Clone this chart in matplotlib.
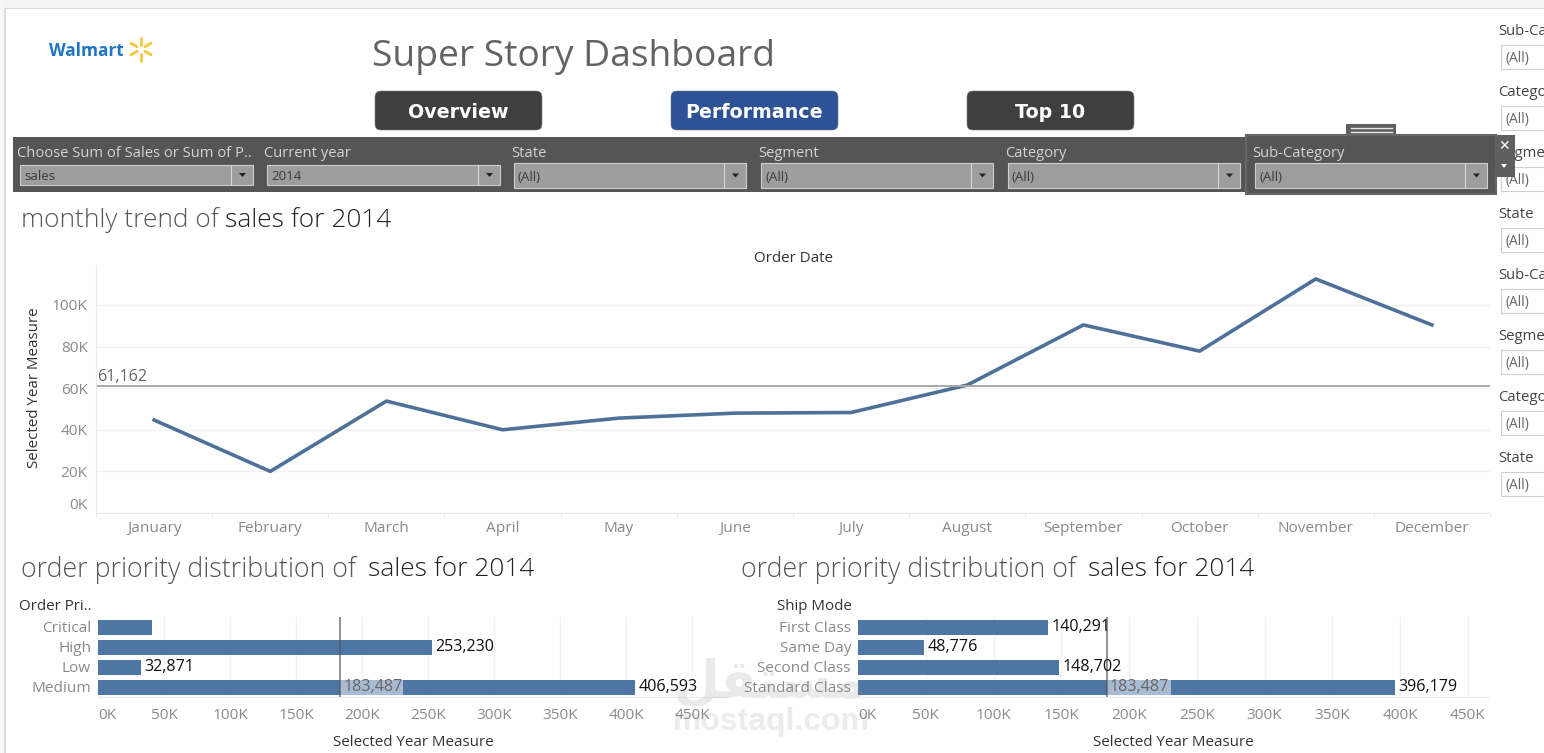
import matplotlib
matplotlib.use('Agg')
import matplotlib.pyplot as plt
from matplotlib.patches import Rectangle, FancyBboxPatch, Polygon
import math

W, H = 1544, 753
months = ['January','February','March','April','May','June','July','August','September','October','November','December']
monthly_sales = [44700, 20000, 53800, 40000, 45600, 48000, 48300, 61500, 90400, 77800, 112500, 90400]
monthly_avg = 61162
y_ticks = [0, 20000, 40000, 60000, 80000, 100000]
y_tick_labels = ['0K','20K','40K','60K','80K','100K']

priority = ['Critical','High','Low','Medium']
priority_sales = [41000, 253230, 32871, 406593]
priority_labels = ['', '253,230', '32,871', '406,593']
ship_modes = ['First Class','Same Day','Second Class','Standard Class']
ship_sales = [140291, 48776, 148702, 396179]
ship_labels = ['140,291', '48,776', '148,702', '396,179']
ref_value = 183487
ref_label = '183,487'
x_ticks = [0, 50000, 100000, 150000, 200000, 250000, 300000, 350000, 400000, 450000]
x_tick_labels = ['0K','50K','100K','150K','200K','250K','300K','350K','400K','450K']

filters = [('Choose Sum of Sales or Sum of P..','sales',17,20,253,165,185),
           ('Current year','2014',264,267,500,165,185),
           ('State','(All)',511,514,746,163,188),
           ('Segment','(All)',758,761,993,163,188),
           ('Category','(All)',1005,1008,1240,163,188),
           ('Sub-Category','(All)',1252,1255,1487,163,188)]
side_labels = ['Sub-Category','Category','Segment','State','Sub-Category','Segment','Category','State']

BODY = 'Open Sans'
BLUE = '#4e76a5'
LINE = '#4f7199'
GRID = '#f1f1f1'
TICK = '#8a8a8a'
FS = 11.1
VAL = 11.6
LAB = 10.9

fig = plt.figure(figsize=(W/100, H/100), dpi=100, facecolor='white')
bg = fig.add_axes([0,0,1,1], zorder=0)
bg.set_xlim(0,W); bg.set_ylim(H,0); bg.axis('off')
fg = fig.add_axes([0,0,1,1], zorder=10)
fg.set_xlim(0,W); fg.set_ylim(H,0); fg.axis('off'); fg.patch.set_alpha(0)

def rect(ax,x0,y0,x1,y1,fc,ec='none',lw=0,z=1):
    ax.add_patch(Rectangle((x0,y0),x1-x0,y1-y0,fc=fc,ec=ec,lw=lw,zorder=z))

def px_axes(x0,y0,x1,y1):
    ax = fig.add_axes([x0/W,1-y1/H,(x1-x0)/W,(y1-y0)/H], zorder=5)
    ax.patch.set_alpha(0)
    return ax

# window chrome
rect(bg,0,0,W,7.5,'#f4f4f4')
rect(bg,0,7.5,W,9,'#d6dee2')
rect(bg,0,0,4,H,'#f6f6f6')
rect(bg,4,8,6,H,'#d6dee2')

# logo
bg.text(49,50.5,'Walmart',fontsize=12.4,fontweight='bold',color='#1f75c4',family=BODY,va='center')
for a in range(6):
    t = math.radians(90+60*a)
    bg.plot([141+4.5*math.cos(t),141+11.5*math.cos(t)],[49-4.5*math.sin(t),49-11.5*math.sin(t)],
            color='#f8c63c',lw=2.0,solid_capstyle='round')

bg.text(372,57,'Super Story Dashboard',fontsize=26.8,color='#636363',family=BODY,va='center')

# buttons
for x0,x1,c,t in [(375,542,'#3f3f3f','Overview'),(671,838,'#2d5296','Performance'),(967,1134,'#3f3f3f','Top 10')]:
    bg.add_patch(FancyBboxPatch((x0+6,97),x1-x0-12,27,boxstyle='round,pad=6',fc=c,ec='#7a7a7a',lw=0.4))
    bg.text((x0+x1)/2,112,t,fontsize=13.7,fontweight='bold',color='white',family='DejaVu Sans',ha='center',va='center')

# filter bar
rect(bg,13,137,1490,192,'#555555')
rect(bg,1346,124,1396,137,'#5f5f5f')
for y in (128,132):
    bg.plot([1351,1392],[y,y],color='#e6e6e6',lw=1)
rect(bg,1246,135,1496,194,'#555555',ec='#666666',lw=1.5,z=2)
bg.text(1504,146,'\u2715',fontsize=10,color='white',ha='center',va='center',family='DejaVu Sans',zorder=3)
bg.add_patch(Polygon([[1501,164],[1507,164],[1504,168]],fc='white',zorder=3))
for lab,val,xl,x0,x1,y0,y1 in filters:
    bg.text(xl,153,lab,fontsize=10.6,color='#d4d4d4',family=BODY,va='center',zorder=4)
    rect(bg,x0,y0,x1,y1,'#9d9d9d',ec='#cfcfcf',lw=0.8,z=3)
    bg.plot([x1-22,x1-22],[y0,y1],color='#d8d8d8',lw=0.8,zorder=4)
    my=(y0+y1)/2
    bg.add_patch(Polygon([[x1-14,my-2],[x1-7,my-2],[x1-10.5,my+2]],fc='#222222',zorder=4))
    bg.text(x0+4,my+1.5,val,fontsize=9.6,color='#3a3a3a',family=BODY,va='center',zorder=4)

# side panel
for i,lab in enumerate(side_labels):
    bg.text(1498,31+61*i,lab,fontsize=10.7,color='#444444',family=BODY,va='center',zorder=1)
    rect(bg,1501,45+61*i,1560,69+61*i,'white',ec='#cfcfcf',lw=0.8,z=1)
    bg.text(1505,58+61*i,'(All)',fontsize=10,color='#666666',family=BODY,va='center',zorder=1)
rect(bg,1495,135,1515,177,'#5f5f5f',z=2)

# titles
def title(x,y,a,xb,b,fa):
    bg.text(x,y,a,fontsize=fa,color='#555555',family=BODY,va='center',fontweight='light')
    bg.text(xb,y,b,fontsize=18.9,color='#222222',family=BODY,va='center',fontweight='light')
title(21,220,'monthly trend of',225,'sales for 2014',18.9)
title(21,570,'order priority distribution of',368,'sales for 2014',19.3)
title(741,570,'order priority distribution of',1088,'sales for 2014',19.3)

# line chart
ax = px_axes(96,265,1490,513)
ax.plot(range(12),monthly_sales,color=LINE,lw=2.6,solid_joinstyle='round')
ax.axhline(monthly_avg,color='#a8a8a8',lw=1.4)
ax.text(-0.49,monthly_avg+4400,f'{monthly_avg:,}',fontsize=VAL,color='#666666',family=BODY,va='center')
ax.set_xlim(-0.49,11.5); ax.set_ylim(0,119200)
ax.set_yticks(y_ticks); ax.set_yticklabels(y_tick_labels,fontsize=FS,color=TICK,family=BODY)
ax.set_xticks(range(12)); ax.set_xticklabels(months,fontsize=FS,color=TICK,family=BODY)
ax.tick_params(axis='both',length=0,pad=6)
ax.tick_params(axis='x',pad=6)
ax.get_yticklabels()[0].set_va('bottom')
ax.set_xticks([i+0.5 for i in range(-1,12)],minor=True)
ax.tick_params(axis='x',which='minor',length=3,color='#e2e2e2')
ax.grid(axis='y',color=GRID,lw=1); ax.set_axisbelow(True)
for s in ('top','right'): ax.spines[s].set_visible(False)
for s in ('left','bottom'): ax.spines[s].set_color('#e8e8e8')
bg.text(793,258,'Order Date',fontsize=LAB,color='#333333',family=BODY,ha='center',va='center')
bg.text(35,388,'Selected Year Measure',fontsize=LAB,color='#333333',family=BODY,ha='center',va='center',rotation=90)

# bar charts
def bars(x0,x1,xmax,cats,vals,labels,head,head_x):
    ax = px_axes(x0,617,x1,697)
    pos = range(len(cats))
    ax.barh(pos,vals,height=0.75,color=BLUE,zorder=2)
    ax.set_ylim(len(cats)-0.5,-0.5); ax.set_xlim(0,xmax)
    ax.set_yticks(list(pos)); ax.set_yticklabels(cats,fontsize=FS,color=TICK,family=BODY)
    ax.set_xticks(x_ticks); ax.set_xticklabels(x_tick_labels,fontsize=FS,color=TICK,family=BODY)
    ax.get_xticklabels()[0].set_ha('left')
    ax.tick_params(axis='both',length=0)
    ax.tick_params(axis='y',pad=5); ax.tick_params(axis='x',pad=8)
    ax.grid(axis='x',color=GRID,lw=1); ax.set_axisbelow(True)
    for s in ('top','right','left'): ax.spines[s].set_visible(False)
    ax.spines['bottom'].set_color('#ececec')
    ax.axvline(ref_value,color='#555555',alpha=0.75,lw=1.2,zorder=4)
    for i,(v,l) in enumerate(zip(vals,labels)):
        if l:
            ax.text(v+xmax*0.005,i+0.02,l,fontsize=VAL,color='#111111',family=BODY,va='center',zorder=5)
    ax.barh(3,47500,left=ref_value,height=0.75,color='#a9bbd2',zorder=3)
    ax.text(ref_value+xmax*0.005,3,ref_label,fontsize=VAL,color='#666666',family=BODY,va='center',zorder=5)
    bg.text(head_x,606,head,fontsize=LAB,color='#333333',family=BODY,ha='right',va='center')
    bg.text((x0+x1)/2,743,'Selected Year Measure',fontsize=LAB,color='#333333',family=BODY,ha='center',va='center')

bars(98,728,630/1.3207*1000,priority,priority_sales,priority_labels,'Order Pri..',92)
bars(858,1488,630/1.355*1000,ship_modes,ship_sales,ship_labels,'Ship Mode',852)

# watermark
fg.text(770,682,'\ufede\ufed8\ufe98\ufeb4\ufee3',fontsize=38,color='#808080',alpha=0.16,family='DejaVu Sans',ha='center',va='center',fontweight='bold')
fg.text(771,722,'mostaql.com',fontsize=23,color='#808080',alpha=0.15,family='Liberation Sans',ha='center',va='center',fontweight='bold')

fig.savefig('out.png',dpi=100,facecolor='white')
